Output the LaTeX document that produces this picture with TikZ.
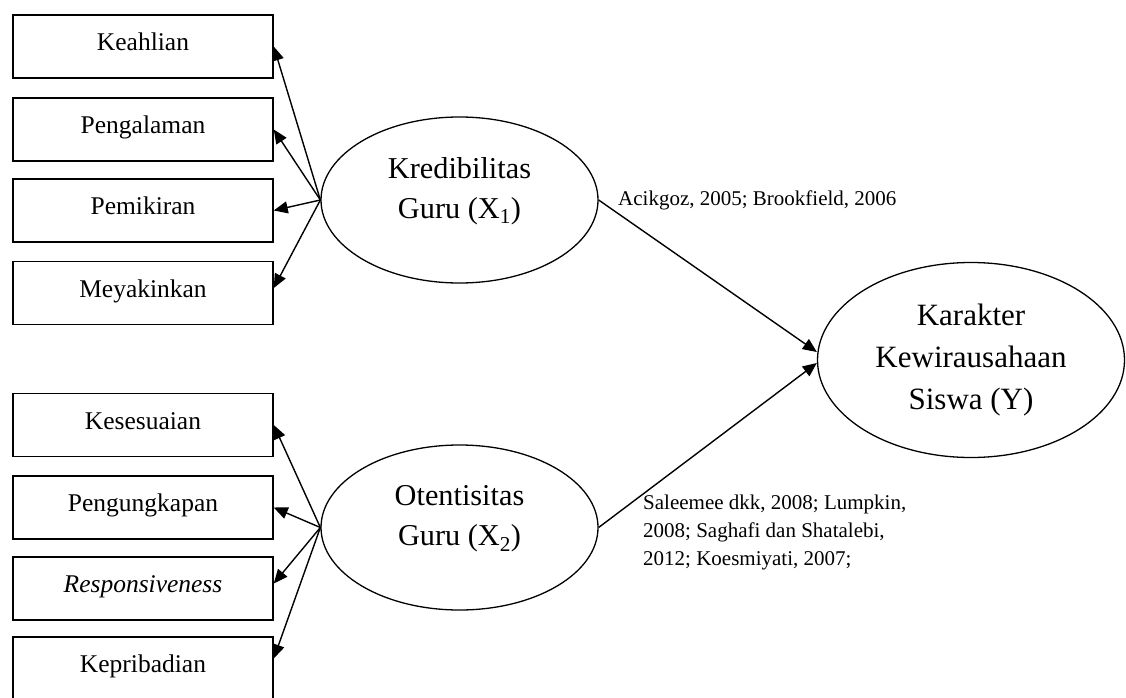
\documentclass[tikz,border=0pt]{standalone}
\usepackage{fontspec}
\setmainfont{Liberation Serif}
\usetikzlibrary{shapes.geometric,arrows.meta}
\begin{document}
\begin{tikzpicture}[x=1pt,y=-1pt,
  ind/.style={draw, line width=1.5pt, minimum width=260pt, minimum height=63pt, inner sep=0pt,
    font=\fontsize{25.5}{30}\selectfont, text height=17pt, text depth=9pt},
  lat/.style={draw, ellipse, line width=1.3pt, inner sep=0pt},
  lattext/.style={align=center, inner sep=0pt, font=\fontsize{30.3}{40}\selectfont},
  cite/.style={align=left, inner sep=0pt, font=\fontsize{21}{28}\selectfont},
  arr/.style={line width=1.4pt, -{Triangle[length=14pt,width=12pt]}}
]
\useasboundingbox (0,0) rectangle (1126,698);

% indicator boxes, X1
\node[ind] (k1) at (143,46.5) {Keahlian};
\node[ind] (k2) at (143,129.5) {Pengalaman};
\node[ind] (k3) at (143,210.5) {Pemikiran};
\node[ind] (k4) at (143,293) {Meyakinkan};
% indicator boxes, X2
\node[ind] (o1) at (143,425) {Kesesuaian};
\node[ind] (o2) at (143,507.5) {Pengungkapan};
\node[ind] (o3) at (143,588.5) {\itshape Responsiveness};
\node[ind] (o4) at (143,668.5) {Kepribadian};

% latent variables
\node[lat, minimum width=277pt, minimum height=166pt] (x1) at (459.5,200) {};
\node[lattext] (x1t) at (459.5,191) {Kredibilitas\\Guru (X\textsubscript{1})};
\node[lat, minimum width=277pt, minimum height=165pt] (x2) at (459.5,527.5) {};
\node[lattext] (x2t) at (459.5,519) {Otentisitas\\Guru (X\textsubscript{2})};
\node[lat, minimum width=307pt, minimum height=195pt, align=center,
  font=\fontsize{31}{42}\selectfont] (y) at (971,360) {Karakter\\Kewirausahaan\\Siswa (Y)};

% arrows to indicators
\draw[arr] (x1.west) -- (k1.east);
\draw[arr] (x1.west) -- (k2.east);
\draw[arr] (x1.west) -- (k3.east);
\draw[arr] (x1.west) -- ([yshift=5pt]k4.east);
\draw[arr] (x2.west) -- (o1.east);
\draw[arr] (x2.west) -- (o2.east);
\draw[arr] (x2.west) -- ([yshift=5pt]o3.east);
\draw[arr] (x2.west) -- ([yshift=10pt]o4.east);

% structural paths
\draw[arr] (x1.east) -- ([yshift=8pt]y.west);
\draw[arr] (x2.east) -- ([yshift=-3pt]y.west);

% citations
\node[cite, anchor=base west] (c1) at (618,205) {Acikgoz, 2005; Brookfield, 2006};
\node[cite, anchor=west] (c2) at (643,532) {Saleemee dkk, 2008; Lumpkin,\\2008; Saghafi dan Shatalebi,\\2012; Koesmiyati, 2007;};
\end{tikzpicture}
\end{document}
